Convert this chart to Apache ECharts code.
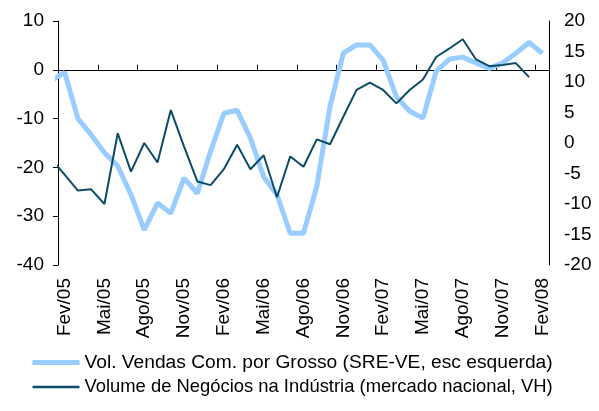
<!DOCTYPE html>
<html lang="pt">
<head>
    <meta charset="UTF-8">
    <title>Vendas vs Negócios</title>
    <style>
        html, body { margin: 0; padding: 0; background: #fff; }
    </style>
</head>
<body>
    <div id="main" style="width: 599px;height:411px;"></div>
    <script src="https://cdn.jsdelivr.net/npm/echarts@6/dist/echarts.min.js"></script>
    <script type="text/javascript">
        var myChart = echarts.init(document.getElementById('main'));

        // eixo das categorias (Fev/05 .. Fev/08)
        var meses = [
            'Fev/05','Mar/05','Abr/05','Mai/05','Jun/05','Jul/05','Ago/05','Set/05','Out/05','Nov/05','Dez/05',
            'Jan/06','Fev/06','Mar/06','Abr/06','Mai/06','Jun/06','Jul/06','Ago/06','Set/06','Out/06','Nov/06','Dez/06',
            'Jan/07','Fev/07','Mar/07','Abr/07','Mai/07','Jun/07','Jul/07','Ago/07','Set/07','Out/07','Nov/07','Dez/07',
            'Jan/08','Fev/08'
        ];

        // valores a partir de Jan/05 (o primeiro fica fora do gráfico, só dá o início da linha)
        var vendasGrosso = [
            -2.3, -0.5, -10.0, -13.3, -17.0, -19.7, -25.6, -32.8, -27.3, -29.4, -22.2, -25.3,
            -16.7, -8.9, -8.3, -14.0, -21.9, -25.6, -33.5, -33.5, -23.9, -7.5, 3.4, 5.1,
            5.1, 2.0, -5.5, -8.5, -9.9, -0.3, 2.2, 2.6, 1.4, 0.3, 1.4, 3.4,
            5.6, 3.4
        ];
        var negociosIndustria = [
            -2.6, -5.2, -7.8, -7.6, -10.0, 1.6, -4.7, 0.0, -3.2, 5.4, -0.6, -6.3,
            -6.9, -4.3, -0.3, -4.3, -2.0, -8.9, -2.2, -3.9, 0.6, -0.2, 4.3, 8.7,
            9.9, 8.7, 6.5, 8.7, 10.4, 14.1, 15.5, 17.0, 13.7, 12.6, 12.8, 13.1,
            10.8, null
        ];

        var nomeVendas = 'Vol. Vendas Com. por Grosso (SRE-VE, esc esquerda)';
        var nomeNegocios = 'Volume de Negócios na Indústria (mercado nacional, VH)';

        // posição no eixo: centro de cada mês (Jan/05 fica em -0.5, fora da área)
        var toPairs = function (arr) {
            return arr.map(function (v, i) { return [i - 0.5, v]; });
        };

        var fonte = '"Liberation Sans", Arial, sans-serif';
        var tamanho = 19;

        var option = {
            animation: false,
            grid: { left: 58, right: 50, top: 21, bottom: 146 },
            legend: {
                orient: 'vertical',
                left: 25,
                top: 348,
                itemWidth: 47,
                itemHeight: 12,
                itemGap: 6,
                itemStyle: { opacity: 0 },
                textStyle: { fontFamily: fonte, fontSize: 19.2, color: '#000' },
                data: [
                    { name: nomeVendas, lineStyle: { width: 5 } },
                    { name: nomeNegocios, lineStyle: { width: 2.5 },
                      textStyle: { fontFamily: fonte, fontSize: 18.4, color: '#000' } }
                ]
            },
            xAxis: [{
                // linha do zero (eixo dos dados); em cima para as marcas apontarem para cima
                type: 'value',
                min: 0,
                max: 37,
                interval: 3,
                position: 'top',
                axisLine: { show: true, onZero: true, onZeroAxisIndex: 0, lineStyle: { color: '#000', width: 1 } },
                axisTick: { show: true, length: 5, lineStyle: { color: '#000' } },
                axisLabel: { show: false },
                splitLine: { show: false }
            }, {
                // só as etiquetas, em baixo
                type: 'category',
                data: meses,
                boundaryGap: true,
                position: 'bottom',
                axisLine: { show: false, onZero: false },
                axisTick: { show: false },
                axisLabel: {
                    rotate: 90, interval: 2, margin: 13,
                    fontFamily: fonte, fontSize: tamanho, color: '#000'
                }
            }],
            yAxis: [{
                type: 'value',
                min: -40, max: 10, interval: 10,
                position: 'left',
                axisLine: { show: true, lineStyle: { color: '#000' } },
                axisTick: { show: true, length: 5, lineStyle: { color: '#000' } },
                splitLine: { show: false },
                axisLabel: { margin: 14, fontFamily: fonte, fontSize: tamanho, color: '#000' }
            }, {
                type: 'value',
                min: -20, max: 20, interval: 5,
                position: 'right',
                axisLine: { show: true, lineStyle: { color: '#000' } },
                axisTick: { show: false },
                splitLine: { show: false },
                axisLabel: { margin: 15, fontFamily: fonte, fontSize: tamanho, color: '#000' }
            }],
            series: [{
                name: nomeVendas,
                type: 'line',
                xAxisIndex: 0,
                yAxisIndex: 0,
                symbol: 'none',
                clip: true,
                color: '#99ccff',
                lineStyle: { width: 5, color: '#99ccff' },
                data: toPairs(vendasGrosso)
            }, {
                name: nomeNegocios,
                type: 'line',
                xAxisIndex: 0,
                yAxisIndex: 1,
                symbol: 'none',
                clip: true,
                color: '#0b4c68',
                lineStyle: { width: 2, color: '#0b4c68' },
                data: toPairs(negociosIndustria)
            }]
        };

        myChart.setOption(option);
    </script>
</body>
</html>
